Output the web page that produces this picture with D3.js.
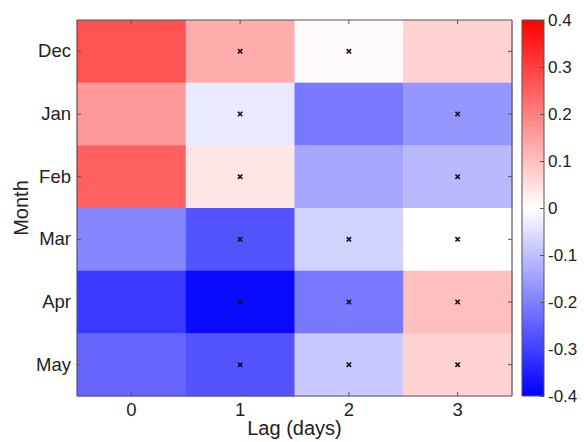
<!DOCTYPE html>
<html>
<head>
<meta charset="utf-8">
<script src="https://cdn.jsdelivr.net/npm/d3@7"></script>
<style>
body { margin: 0; background: #fff; }
text { font-family: "Liberation Sans", Arial, sans-serif; fill: #222; }
</style>
</head>
<body>
<svg></svg>
<script>
var width = 584,
	height = 442;

var months = ["Dec", "Jan", "Feb", "Mar", "Apr", "May"];
var lags = [0, 1, 2, 3];

// correlation per month, lag 0..3
var vals = [
	[0.27, 0.13, 0.01, 0.07],
	[0.16, -0.035, -0.21, -0.165],
	[0.25, 0.04, -0.14, -0.11],
	[-0.19, -0.27, -0.07, 0.0],
	[-0.31, -0.385, -0.21, 0.10],
	[-0.24, -0.27, -0.085, 0.07]
];
// significant cells (1 = marked with x)
var signif = [
	[0, 1, 1, 0],
	[0, 1, 0, 1],
	[0, 1, 0, 1],
	[0, 1, 1, 1],
	[0, 1, 1, 1],
	[0, 1, 1, 1]
];
var cbTicks = [-0.4, -0.3, -0.2, -0.1, 0, 0.1, 0.2, 0.3, 0.4];

var svg = d3.select("svg")
	.attr("width", width)
	.attr("height", height);

var pLeft = 77, pRight = 512, pTop = 20, pBottom = 396;

var x = d3.scaleBand().domain(lags).range([pLeft, pRight]).padding(0);
var y = d3.scaleBand().domain(months).range([pTop, pBottom]).padding(0);
var color = d3.scaleLinear()
	.domain([-0.4, 0, 0.4])
	.range(["#0000ff", "#ffffff", "#ff0000"])
	.clamp(true);

var cells = [];
months.forEach(function(m, i) {
	lags.forEach(function(l, j) {
		cells.push({month: m, lag: l, v: vals[i][j], s: signif[i][j]});
	});
});

svg.append("g").selectAll("rect")
	.data(cells)
	.enter()
	.append("rect")
	.attr("x", function(d) { return x(d.lag); })
	.attr("y", function(d) { return y(d.month); })
	.attr("width", x.bandwidth() + 0.5)
	.attr("height", y.bandwidth() + 0.5)
	.attr("fill", function(d) { return color(d.v); });

// x markers
svg.append("g").selectAll("path")
	.data(cells.filter(function(d) { return d.s; }))
	.enter()
	.append("path")
	.attr("d", function(d) {
		var cx = x(d.lag) + x.bandwidth() / 2, cy = y(d.month) + y.bandwidth() / 2, r = 2.2;
		return "M" + (cx - r) + "," + (cy - r) + "L" + (cx + r) + "," + (cy + r) +
			"M" + (cx - r) + "," + (cy + r) + "L" + (cx + r) + "," + (cy - r);
	})
	.attr("stroke", "#111")
	.attr("stroke-width", 1.6);

// axes
var xAxis = svg.append("g")
	.attr("transform", "translate(0," + pBottom + ")")
	.call(d3.axisBottom(x).tickSize(-4).tickPadding(7));
var xTop = svg.append("g")
	.attr("transform", "translate(0," + pTop + ")")
	.call(d3.axisTop(x).tickSize(-4).tickFormat(""));
var yAxis = svg.append("g")
	.attr("transform", "translate(" + pLeft + ",0)")
	.call(d3.axisLeft(y).tickSize(-4).tickPadding(6));
var yRight = svg.append("g")
	.attr("transform", "translate(" + pRight + ",0)")
	.call(d3.axisRight(y).tickSize(-4).tickFormat(""));

[xAxis, xTop, yAxis, yRight].forEach(function(a) {
	a.select(".domain").attr("stroke", "#555").attr("stroke-width", 1.2);
	a.selectAll(".tick line").attr("stroke", "#555");
	a.selectAll("text").style("font-size", "18.5px").attr("fill", "#222");
});
yAxis.selectAll(".domain").attr("d", "M0," + pTop + "V" + pBottom);
yRight.selectAll(".domain").attr("d", "M0," + pTop + "V" + pBottom);
xAxis.selectAll(".domain").attr("d", "M" + pLeft + ",0H" + pRight);
xTop.selectAll(".domain").attr("d", "M" + pLeft + ",0H" + pRight);

svg.append("text")
	.attr("x", (pLeft + pRight) / 2)
	.attr("y", 435)
	.attr("text-anchor", "middle")
	.style("font-size", "20px")
	.text("Lag (days)");

svg.append("text")
	.attr("transform", "translate(28," + ((pTop + pBottom) / 2) + ") rotate(-90)")
	.attr("text-anchor", "middle")
	.style("font-size", "20px")
	.text("Month");

// colorbar
var cbX = 522, cbW = 22;
var cy = d3.scaleLinear().domain([-0.4, 0.4]).range([pBottom, pTop]);
var defs = svg.append("defs");
var grad = defs.append("linearGradient")
	.attr("id", "cbgrad")
	.attr("x1", 0).attr("y1", 1).attr("x2", 0).attr("y2", 0);
[-0.4, 0, 0.4].forEach(function(v) {
	grad.append("stop")
		.attr("offset", (v + 0.4) / 0.8)
		.attr("stop-color", color(v));
});
svg.append("rect")
	.attr("x", cbX)
	.attr("y", pTop)
	.attr("width", cbW)
	.attr("height", pBottom - pTop)
	.attr("fill", "url(#cbgrad)")
	.attr("stroke", "#555")
	.attr("stroke-width", 1);

var cbAxis = svg.append("g")
	.attr("transform", "translate(" + (cbX + cbW) + ",0)")
	.call(d3.axisRight(cy).tickValues(cbTicks).tickSize(-4).tickPadding(4)
		.tickFormat(function(d) { return d === 0 ? "0" : d3.format(".1f")(d).replace("\u2212", "-"); }));
cbAxis.select(".domain").remove();
cbAxis.selectAll(".tick line").attr("stroke", "#555");
cbAxis.selectAll("text").style("font-size", "17px").attr("fill", "#222");
</script>
</body>
</html>
